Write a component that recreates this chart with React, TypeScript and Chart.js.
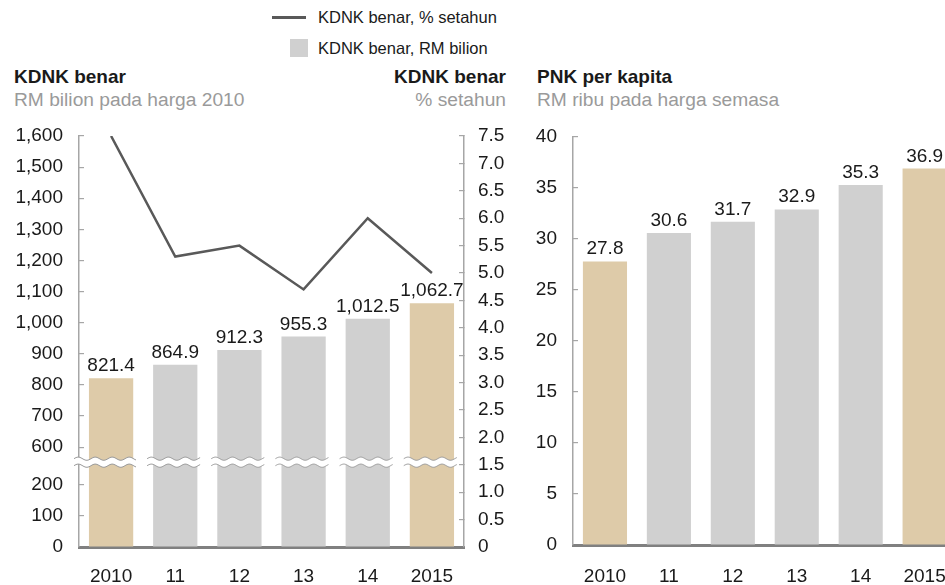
import React, { useEffect, useRef } from 'react';
import { Chart, registerables } from 'chart.js';

Chart.register(...registerables);

// ---------- data ----------
const YEARS = ['2010', '11', '12', '13', '14', '2015'];
const KDNK_RM = [821.4, 864.9, 912.3, 955.3, 1012.5, 1062.7];
const KDNK_PCT = [7.5, 5.3, 5.5, 4.7, 6.0, 5.0];
const PNK = [27.8, 30.6, 31.7, 32.9, 35.3, 36.9];
const HIGHLIGHT = [true, false, false, false, false, true];
const LEFT_TICKS = [0, 100, 200, 600, 700, 800, 900, 1000, 1100, 1200, 1300, 1400, 1500, 1600];
const PCT_TICKS = [0, 0.5, 1, 1.5, 2, 2.5, 3, 3.5, 4, 4.5, 5, 5.5, 6, 6.5, 7, 7.5];
const PNK_TICKS = [0, 5, 10, 15, 20, 25, 30, 35, 40];

// axis break (200 -> 600 compressed)
const BREAK_LOW = 200;
const BREAK_HIGH = 600;
const BREAK_GAP = 121;
const toDisp = (v: number) => (v <= BREAK_LOW ? v : v - BREAK_HIGH + BREAK_LOW + BREAK_GAP);
const fromDisp = (d: number) => (d <= BREAK_LOW ? d : d + BREAK_HIGH - BREAK_LOW - BREAK_GAP);

// ---------- style ----------
const FONT = '"Liberation Sans", Arial, Helvetica, sans-serif';
const TAN = '#DECBA9';
const GRAY = '#D0D0D0';
const AXIS = '#A6A6A6';
const BASE = '#808080';
const TEXT = '#1a1a1a';
const SUB = '#9a9a9a';
const LINE = '#595959';

const fmt1 = (v: number) => v.toLocaleString('en-US', { minimumFractionDigits: 1, maximumFractionDigits: 1 });

function makeBarLabels(labels: string[]) {
  return {
    id: 'barLabels',
    afterDatasetsDraw(chart: any) {
      const ctx = chart.ctx;
      const idx = chart.data.datasets.findIndex((d: any) => (d.type || 'bar') === 'bar');
      const meta = chart.getDatasetMeta(idx);
      ctx.save();
      ctx.font = `19px ${FONT}`;
      ctx.fillStyle = TEXT;
      ctx.textAlign = 'center';
      ctx.textBaseline = 'alphabetic';
      meta.data.forEach((el: any, i: number) => {
        ctx.fillText(labels[i], el.x, el.y - 7);
      });
      ctx.restore();
    },
  };
}

function wave(ctx: CanvasRenderingContext2D, x0: number, x1: number, y: number, forward: boolean, move: boolean) {
  const amp = 1.6;
  const wl = 17;
  const pts: [number, number][] = [];
  for (let x = x0; x <= x1; x += 1) pts.push([x, y - amp * Math.sin(((x - x0) / wl) * Math.PI * 2)]);
  if (!forward) pts.reverse();
  pts.forEach(([px, py], i) => {
    if (i === 0 && move) ctx.moveTo(px, py);
    else ctx.lineTo(px, py);
  });
}

const axisBreakPlugin = {
  id: 'axisBreak',
  afterDatasetsDraw(chart: any) {
    const ctx = chart.ctx as CanvasRenderingContext2D;
    const y = chart.scales.y;
    const pHigh = y.getPixelForValue(toDisp(BREAK_HIGH));
    const pLow = y.getPixelForValue(toDisp(BREAK_LOW));
    const yb = pHigh + 0.4 * (pLow - pHigh);
    const meta = chart.getDatasetMeta(1);
    ctx.save();
    meta.data.forEach((el: any, i: number) => {
      const x0 = i === 0 ? chart.chartArea.left - 5 : el.x - el.width / 2 - 6;
      const x1 = el.x + el.width / 2 + 3;
      const h = 3.5;
      ctx.beginPath();
      wave(ctx, x0, x1, yb - h, true, true);
      wave(ctx, x0, x1, yb + h, false, false);
      ctx.closePath();
      ctx.fillStyle = '#ffffff';
      ctx.fill();
      ctx.strokeStyle = '#9a9a9a';
      ctx.lineWidth = 1;
      ctx.beginPath();
      wave(ctx, x0, x1, yb - h, true, true);
      ctx.stroke();
      ctx.beginPath();
      wave(ctx, x0, x1, yb + h, true, true);
      ctx.stroke();
    });
    ctx.restore();
  },
};

const tickFont = { family: FONT, size: 19 };

export default function App() {
  const leftRef = useRef<HTMLCanvasElement>(null);
  const rightRef = useRef<HTMLCanvasElement>(null);

  useEffect(() => {
    const left = new Chart(leftRef.current as HTMLCanvasElement, {
      type: 'bar',
      data: {
        labels: YEARS,
        datasets: [
          {
            type: 'line',
            data: KDNK_PCT,
            yAxisID: 'y1',
            borderColor: LINE,
            borderWidth: 2.5,
            pointRadius: 0,
            tension: 0,
            order: 0,
          } as any,
          {
            type: 'bar',
            data: KDNK_RM.map(toDisp),
            yAxisID: 'y',
            backgroundColor: HIGHLIGHT.map((h) => (h ? TAN : GRAY)),
            barPercentage: 0.69,
            categoryPercentage: 1,
            order: 1,
          } as any,
        ],
      },
      options: {
        animation: false,
        responsive: false,
        layout: { padding: { top: 136, left: 0, right: 0, bottom: 0 } },
        plugins: { legend: { display: false }, tooltip: { enabled: false } },
        scales: {
          x: {
            grid: { display: true, drawOnChartArea: false, drawTicks: false },
            border: { display: true, color: BASE, width: 3 },
            ticks: { font: tickFont, color: TEXT, padding: 18 },
            afterFit: (s: any) => { s.height = 38; },
          },
          y: {
            position: 'left',
            min: 0,
            max: toDisp(1600),
            grid: { drawOnChartArea: false, tickLength: -5, color: AXIS, lineWidth: 1.2 },
            border: { display: true, color: AXIS, width: 1.5 },
            ticks: {
              font: tickFont,
              color: TEXT,
              padding: 21,
              callback: (v: any) => Math.round(fromDisp(Number(v))).toLocaleString('en-US'),
            },
            afterBuildTicks: (s: any) => { s.ticks = LEFT_TICKS.map((v) => ({ value: toDisp(v) })); },
            afterFit: (s: any) => { s.width = 79; },
          },
          y1: {
            position: 'right',
            min: 0,
            max: 7.5,
            grid: { drawOnChartArea: false, tickLength: -5, color: AXIS, lineWidth: 1.2 },
            border: { display: true, color: AXIS, width: 1.5 },
            ticks: {
              font: tickFont,
              color: TEXT,
              padding: 19,
              callback: (v: any) => (Number(v) === 0 ? '0' : Number(v).toFixed(1)),
            },
            afterBuildTicks: (s: any) => { s.ticks = PCT_TICKS.map((v) => ({ value: v })); },
            afterFit: (s: any) => { s.width = 56; },
          },
        },
      } as any,
      plugins: [makeBarLabels(KDNK_RM.map(fmt1)), axisBreakPlugin],
    });

    const right = new Chart(rightRef.current as HTMLCanvasElement, {
      type: 'bar',
      data: {
        labels: YEARS,
        datasets: [
          {
            data: PNK,
            backgroundColor: HIGHLIGHT.map((h) => (h ? TAN : GRAY)),
            barPercentage: 0.69,
            categoryPercentage: 1,
          },
        ],
      },
      options: {
        animation: false,
        responsive: false,
        layout: { padding: { top: 137, left: 0, right: 3, bottom: 0 } },
        plugins: { legend: { display: false }, tooltip: { enabled: false } },
        scales: {
          x: {
            grid: { display: true, drawOnChartArea: false, drawTicks: false },
            border: { display: true, color: BASE, width: 3 },
            ticks: { font: tickFont, color: TEXT, padding: 20 },
            afterFit: (s: any) => { s.height = 40; },
          },
          y: {
            min: 0,
            max: 40,
            grid: { drawOnChartArea: false, tickLength: -5, color: AXIS, lineWidth: 1.2 },
            border: { display: true, color: AXIS, width: 1.5 },
            ticks: { font: tickFont, color: TEXT, padding: 21 },
            afterBuildTicks: (s: any) => { s.ticks = PNK_TICKS.map((v) => ({ value: v })); },
            afterFit: (s: any) => { s.width = 53; },
          },
        },
      } as any,
      plugins: [makeBarLabels(PNK.map(fmt1))],
    });

    return () => {
      left.destroy();
      right.destroy();
    };
  }, []);

  const abs = (o: React.CSSProperties): React.CSSProperties => ({ position: 'absolute', whiteSpace: 'nowrap', ...o });

  return (
    <div
      style={{
        position: 'absolute',
        left: 0,
        top: 0,
        width: 945,
        height: 585,
        overflow: 'hidden',
        background: '#ffffff',
        fontFamily: FONT,
        color: TEXT,
      }}
    >
      {/* legend */}
      <div style={abs({ left: 272, top: 16, width: 34, height: 3, background: LINE })} />
      <div style={abs({ left: 318, top: 7, fontSize: 16.5, lineHeight: '20px' })}>KDNK benar, % setahun</div>
      <div style={abs({ left: 290, top: 39, width: 18, height: 18, background: GRAY })} />
      <div style={abs({ left: 318, top: 38, fontSize: 16.5, lineHeight: '20px' })}>KDNK benar, RM bilion</div>

      {/* titles */}
      <div style={abs({ left: 14, top: 66, fontSize: 19, lineHeight: '22px', fontWeight: 'bold' })}>KDNK benar</div>
      <div style={abs({ left: 14, top: 89, fontSize: 19.2, lineHeight: '22px', color: SUB })}>RM bilion pada harga 2010</div>
      <div style={abs({ left: 306, width: 200, textAlign: 'right', top: 66, fontSize: 19, lineHeight: '22px', fontWeight: 'bold' })}>KDNK benar</div>
      <div style={abs({ left: 306, width: 200, textAlign: 'right', top: 89, fontSize: 19.2, lineHeight: '22px', color: SUB })}>% setahun</div>
      <div style={abs({ left: 537, top: 66, fontSize: 19, lineHeight: '22px', fontWeight: 'bold' })}>PNK per kapita</div>
      <div style={abs({ left: 537, top: 89, fontSize: 19.2, lineHeight: '22px', color: SUB })}>RM ribu pada harga semasa</div>

      <canvas ref={leftRef} width={520} height={585} style={{ position: 'absolute', left: 0, top: 0, width: 520, height: 585 }} />
      <canvas ref={rightRef} width={446} height={585} style={{ position: 'absolute', left: 520, top: 0, width: 446, height: 585 }} />
    </div>
  );
}
